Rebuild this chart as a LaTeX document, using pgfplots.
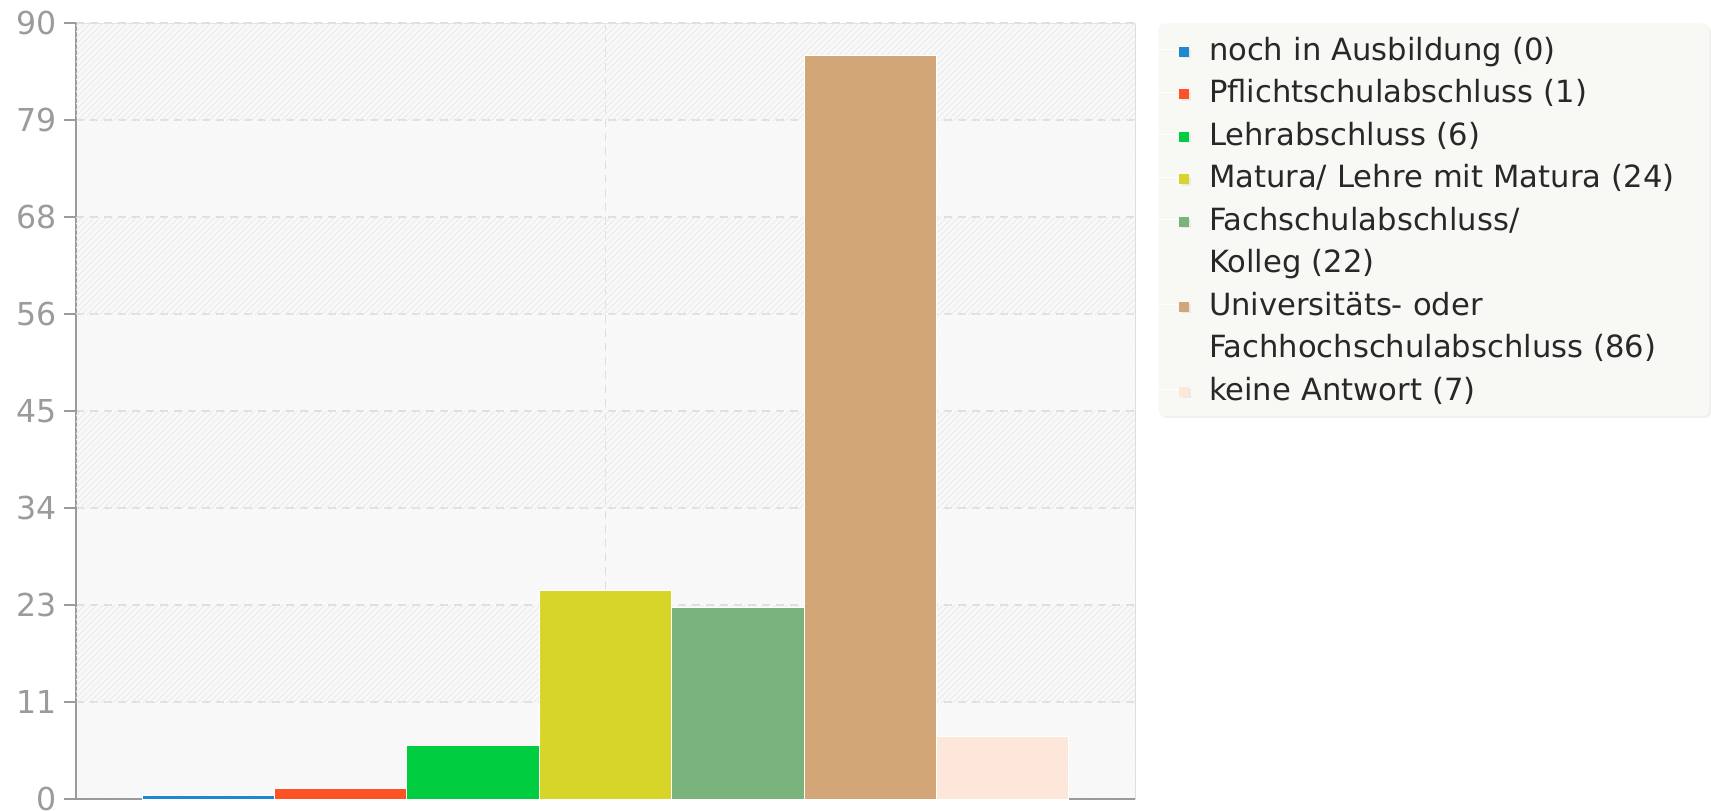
\documentclass[border=0pt]{standalone}
\usepackage{fontspec}
\setmainfont{DejaVu Sans}
\usepackage{pgfplots}
\pgfplotsset{compat=1.18}
\usetikzlibrary{patterns,shadows}

\definecolor{cBlue}{RGB}{30,136,208}
\definecolor{cRed}{RGB}{252,82,36}
\definecolor{cGreen}{RGB}{0,206,64}
\definecolor{cYellow}{RGB}{215,213,42}
\definecolor{cSage}{RGB}{122,179,124}
\definecolor{cTan}{RGB}{211,166,119}
\definecolor{cPeach}{RGB}{253,230,218}
\definecolor{tickgray}{RGB}{155,155,155}
\definecolor{gridgray}{RGB}{222,222,222}
\definecolor{bggray}{RGB}{249,249,249}
\definecolor{legbg}{RGB}{248,248,245}
\definecolor{legtext}{RGB}{40,40,40}

\pgfplotsset{
  mybar/.style={ybar, bar width=1, bar shift=0pt, fill=#1, draw=white, line width=0.5pt,
    legend image code/.code={%
      \path (0pt,0pt) -- (15pt,0pt);
      \fill[#1, sharp corners] (10.5pt,-3.25pt) rectangle (15pt,1.25pt);}},
}

\begin{document}
\begin{tikzpicture}
\begin{axis}[
  name=ax,
  width=529.5pt, height=388pt, scale only axis,
  xmin=-1, xmax=7, ymin=0, ymax=90,
  axis lines=left,
  axis line style={tickgray, line width=1pt, -},
  axis background/.style={preaction={fill=bggray}, pattern=north east lines, pattern color=black!3, draw=gridgray},
  xtick={3}, xticklabels={}, xtick style={draw=none},
  ytick={0,11.25,22.5,33.75,45,56.25,67.5,78.75,90},
  yticklabels={0,11,23,34,45,56,68,79,90},
  tick align=outside, major tick length=6pt,
  ytick style={tickgray, line width=1pt},
  yticklabel style={tickgray, font=\fontsize{15.8}{18}\selectfont},
  /pgf/number format/assume math mode=true,
  grid=major,
  major grid style={gridgray, dash pattern=on 4pt off 3pt, line width=0.8pt},
  legend cell align=left,
  legend style={
    at={(axis description cs:1,1)}, anchor=north west, xshift=11.5pt,
    draw=none, fill=legbg, rounded corners=3pt,
    drop shadow={opacity=0.12, shadow xshift=1pt, shadow yshift=-1pt},
    inner xsep=0pt, inner ysep=2.5pt, row sep=0pt,
    font=\fontsize{15.3}{18}\selectfont, text=legtext,
    nodes={inner xsep=0pt, inner ysep=0pt, text height=16pt, text depth=5.25pt, text width=250pt},
    /tikz/every odd column/.append style={column sep=9.8pt},
  },
]
\fill[pattern=north east lines, pattern color=black!8] (axis cs:-1,78.75) rectangle (axis cs:7,90);
\fill[pattern=north east lines, pattern color=black!8] (axis cs:-1,56.25) rectangle (axis cs:7,67.5);
\fill[pattern=north east lines, pattern color=black!8] (axis cs:-1,33.75) rectangle (axis cs:7,45);
\fill[pattern=north east lines, pattern color=black!8] (axis cs:-1,11.25) rectangle (axis cs:7,22.5);

\addplot[mybar=cBlue] coordinates {(0,0.45)};
\addlegendentry{noch in Ausbildung (0)}
\addplot[mybar=cRed] coordinates {(1,1.2)};
\addlegendentry{Pflichtschulabschluss (1)}
\addplot[mybar=cGreen] coordinates {(2,6.2)};
\addlegendentry{Lehrabschluss (6)}
\addplot[mybar=cYellow] coordinates {(3,24.2)};
\addlegendentry{Matura/ Lehre mit Matura (24)}
\addplot[mybar=cSage] coordinates {(4,22.2)};
\addlegendentry{Fachschulabschluss/}
\addlegendimage{empty legend}
\addlegendentry{Kolleg (22)}
\addplot[mybar=cTan] coordinates {(5,86.2)};
\addlegendentry{Universitäts- oder}
\addlegendimage{empty legend}
\addlegendentry{Fachhochschulabschluss (86)}
\addplot[mybar=cPeach] coordinates {(6,7.2)};
\addlegendentry{keine Antwort (7)}
\end{axis}
\pgfresetboundingbox
\path (ax.south west) ++(-38pt,-5.5pt) rectangle ++(855.5pt,405pt);
\end{tikzpicture}
\end{document}
